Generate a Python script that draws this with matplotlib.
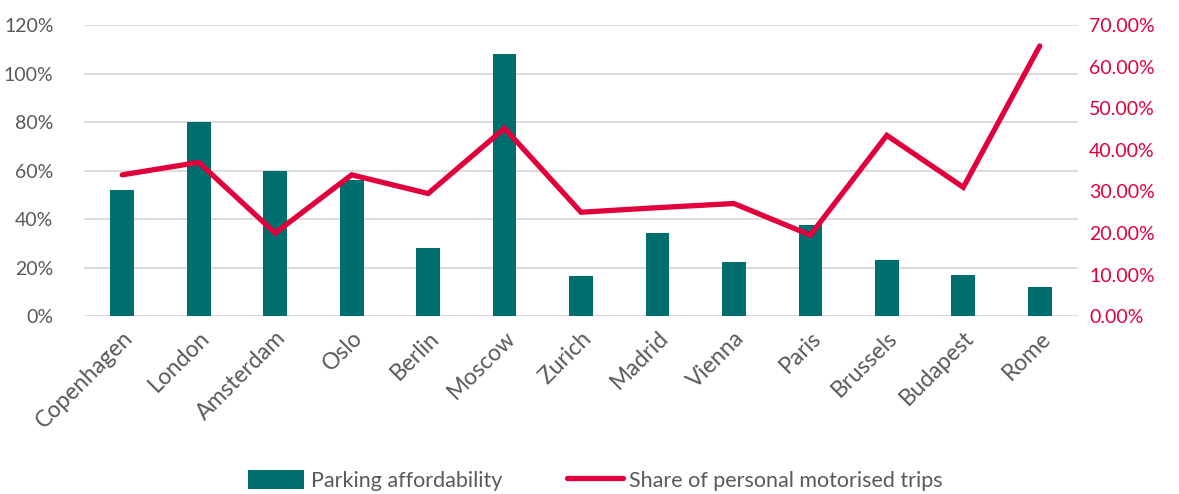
import matplotlib
matplotlib.use("Agg")
import matplotlib.pyplot as plt
from matplotlib.ticker import FuncFormatter

cities = ["Copenhagen", "London", "Amsterdam", "Oslo", "Berlin", "Moscow", "Zurich",
          "Madrid", "Vienna", "Paris", "Brussels", "Budapest", "Rome"]
# parking affordability, %
parking = [52, 80, 60, 56, 28, 108, 16.5, 34.5, 22.5, 37.5, 23, 17, 12]
# share of personal motorised trips, %
motorised = [34.0, 37.0, 20.0, 34.0, 29.5, 45.2, 25.0, 26.1, 27.1, 19.5, 43.5, 31.0, 65.0]

teal = "#006e6e"
red = "#e2003c"
grey = "#595959"

plt.rcParams["font.family"] = ["Lato", "DejaVu Sans"]

fig = plt.figure(figsize=(11.79, 4.94), dpi=100)
ax = fig.add_axes([0.0713, 0.36, 0.843, 0.589])
ax2 = ax.twinx()

x = list(range(len(cities)))
b = ax.bar(x, parking, width=0.31, color=teal, zorder=2, label="Parking affordability")
l, = ax2.plot(x, motorised, color=red, lw=3.8, solid_joinstyle="miter", solid_capstyle="round",
              zorder=3, label="Share of personal motorised trips")

ax.set_xlim(-0.5, len(cities) - 0.5)
ax.set_ylim(0, 120)
ax.set_yticks(range(0, 121, 20))
ax.yaxis.set_major_formatter(FuncFormatter(lambda v, p: f"{v:.0f}%"))
ax2.set_ylim(0, 70)
ax2.set_yticks(range(0, 71, 10))
ax2.yaxis.set_major_formatter(FuncFormatter(lambda v, p: f"{v:.2f}%"))

ax.grid(axis="y", color="#d9d9d9", lw=1.3, zorder=0)
ax.set_axisbelow(True)
ax2.set_zorder(ax.get_zorder() + 1)
ax2.patch.set_visible(False)

for a in (ax, ax2):
    for s in a.spines.values():
        s.set_visible(False)
    a.tick_params(length=0)

ax.tick_params(axis="y", labelsize=14, labelcolor=grey, pad=22)
ax2.tick_params(axis="y", labelsize=14, labelcolor=red, pad=8)
ax.set_xticks(x)
ax.set_xticklabels(cities, rotation=45, ha="right", rotation_mode="anchor",
                   fontsize=16.5, color=grey)
ax.tick_params(axis="x", pad=8)

fig.legend(handles=[b, l], loc="center", bbox_to_anchor=(0.505, 0.028), ncol=2,
           frameon=False, fontsize=15.5, labelcolor=grey, handlelength=2.6,
           handleheight=1.0, columnspacing=3.0, handletextpad=0.3)

fig.savefig("out.png", dpi=100)
